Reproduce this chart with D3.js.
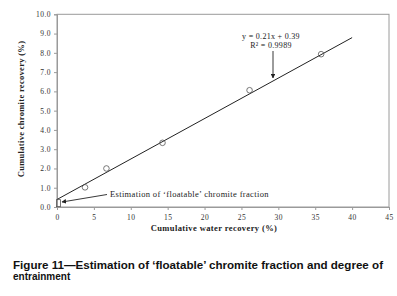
<!DOCTYPE html>
<html><head><meta charset="utf-8">
<script src="https://cdn.jsdelivr.net/npm/d3@7"></script>
<style>body{margin:0;background:#fff}svg{display:block}</style>
</head><body>
<script>
const waterRecovery = [3.8, 6.7, 14.3, 26.1, 35.8];
const chromiteRecovery = [1.02, 2.0, 3.33, 6.06, 7.93];
const floatablePoint = [0.2, 0.2];
const fitSlope = 0.21, fitIntercept = 0.39;
const fitRange = [0, 40];
const xTicks = [0, 5, 10, 15, 20, 25, 30, 35, 40, 45];
const yTicks = [0, 1, 2, 3, 4, 5, 6, 7, 8, 9, 10];

const W = 397, H = 296;
const svg = d3.select("body").append("svg").attr("width", W).attr("height", H);
const x = d3.scaleLinear().domain([0, 45]).range([57, 389]);
const y = d3.scaleLinear().domain([0, 10]).range([207, 14.3]);
const serif = "'Liberation Serif','Times New Roman',serif";
const axisCol = "#9a9a9a";

svg.append("defs").append("marker").attr("id","ah").attr("viewBox","0 0 10 10")
  .attr("refX",9).attr("refY",5).attr("markerWidth",5).attr("markerHeight",5).attr("orient","auto")
  .append("path").attr("d","M0,0 L10,5 L0,10 z").attr("fill","#222");

// frame
svg.append("rect").attr("x",x(0)).attr("y",y(10)).attr("width",x(45)-x(0)).attr("height",y(0)-y(10))
  .attr("fill","none").attr("stroke",axisCol).attr("stroke-width",1);

const xa = svg.append("g").attr("transform",`translate(0,${y(0)})`)
  .call(d3.axisBottom(x).tickValues(xTicks).tickSize(3).tickFormat(d3.format("d")));
const ya = svg.append("g").attr("transform",`translate(${x(0)},0)`)
  .call(d3.axisLeft(y).tickValues(yTicks).tickSize(3).tickFormat(d3.format(".1f")));
[xa, ya].forEach(g => {
  g.select(".domain").attr("stroke",axisCol);
  g.selectAll(".tick line").attr("stroke",axisCol);
  g.selectAll("text").attr("font-family",serif).attr("font-size",7.5).attr("fill","#333")
    .attr("letter-spacing",0.5);
});
xa.selectAll("text").attr("dy",0).attr("y",13);
ya.selectAll("text").attr("x",-6).attr("dy","0.32em");

// axis titles
svg.append("text").attr("x",214).attr("y",231).attr("text-anchor","middle")
  .attr("font-family",serif).attr("font-weight","bold").attr("font-size",8.5).attr("fill","#222")
  .attr("letter-spacing",0.4).text("Cumulative water recovery (%)");
svg.append("text").attr("transform","translate(23.5,109) rotate(-90)").attr("text-anchor","middle")
  .attr("font-family",serif).attr("font-weight","bold").attr("font-size",8.5).attr("fill","#222")
  .attr("letter-spacing",0.3).text("Cumulative chromite recovery (%)");

// fit line
svg.append("line").attr("x1",x(fitRange[0])).attr("y1",y(fitIntercept+fitSlope*fitRange[0]))
  .attr("x2",x(fitRange[1])).attr("y2",y(fitIntercept+fitSlope*fitRange[1]))
  .attr("stroke","#222").attr("stroke-width",1);

// points
svg.selectAll("circle.pt").data(waterRecovery).join("circle").attr("class","pt")
  .attr("cx",(d)=>x(d)).attr("cy",(d,i)=>y(chromiteRecovery[i])).attr("r",2.8)
  .attr("fill","none").attr("stroke","#555").attr("stroke-width",0.8);
svg.append("rect").attr("x",x(floatablePoint[0])-2).attr("y",y(floatablePoint[1])-3.5)
  .attr("width",4).attr("height",7).attr("fill","none").attr("stroke","#555").attr("stroke-width",0.8);

// annotations
svg.append("text").attr("x",271).attr("y",39).attr("text-anchor","middle")
  .attr("font-family",serif).attr("font-size",8).attr("fill","#222").attr("letter-spacing",0.3)
  .text("y = 0.21x + 0.39");
svg.append("text").attr("x",271).attr("y",47.5).attr("text-anchor","middle")
  .attr("font-family",serif).attr("font-size",8).attr("fill","#222").attr("letter-spacing",0.3)
  .text("R² = 0.9989");
svg.append("line").attr("x1",273).attr("y1",51).attr("x2",273).attr("y2",78)
  .attr("stroke","#222").attr("stroke-width",0.9).attr("marker-end","url(#ah)");
svg.append("text").attr("x",110).attr("y",197)
  .attr("font-family",serif).attr("font-size",8.5).attr("fill","#222").attr("letter-spacing",0.35)
  .text("Estimation of ‘floatable’ chromite fraction");
svg.append("line").attr("x1",107).attr("y1",194.5).attr("x2",62).attr("y2",202)
  .attr("stroke","#222").attr("stroke-width",0.9).attr("marker-end","url(#ah)");

// caption
const cap = "'Liberation Sans',Arial,sans-serif";
svg.append("text").attr("x",13).attr("y",268.5).attr("font-family",cap).attr("font-weight","bold")
  .attr("font-size",10).attr("fill","#111").attr("textLength",370).attr("lengthAdjust","spacingAndGlyphs")
  .text("Figure 11—Estimation of ‘floatable’ chromite fraction and degree of");
svg.append("text").attr("x",13).attr("y",280).attr("font-family",cap).attr("font-weight","bold")
  .attr("font-size",10).attr("fill","#111").text("entrainment");
</script>
</body></html>
